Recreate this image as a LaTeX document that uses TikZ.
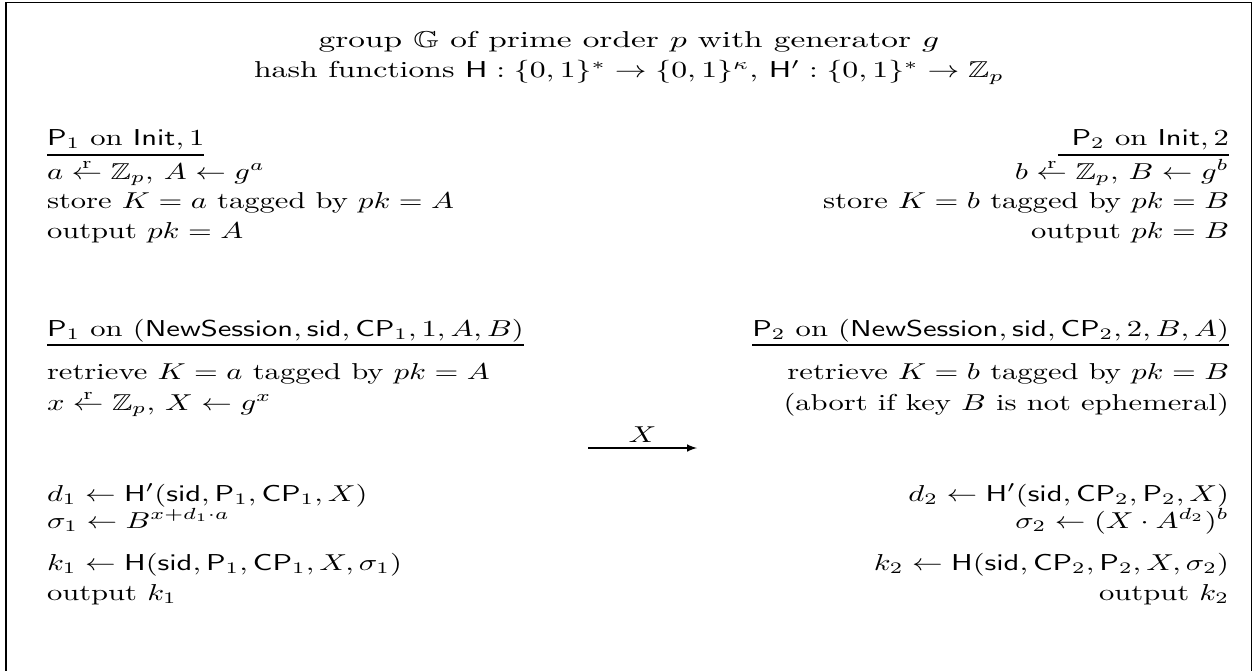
\documentclass[tikz,border=0pt]{standalone}
\usepackage{amsmath,amssymb,graphicx}
\newcommand{\smp}{\mathrel{\overset{\raisebox{-2.2pt}{$\scriptstyle\mathrm{r}$}}{\leftarrow}}}
\newcommand{\xf}{1.33}
\newcommand{\sx}[1]{\scalebox{\xf}[1]{#1}}
\newcommand{\sxw}[2]{\scalebox{#1}[1]{#2}}
\begin{document}
\begin{tikzpicture}[x=0.435pt,y=-0.435pt,
  txt/.style={inner sep=0pt,outer sep=0pt,font=\fontsize{10}{12}\selectfont},
  lt/.style={txt,anchor=base west},
  rt/.style={txt,anchor=base east},
  ct/.style={txt,anchor=base},
  hrule/.style={line width=0.8pt},
  frame/.style={line width=0.8pt}]
\useasboundingbox (0,0) rectangle (1257,670);
\draw[frame] (6,700) -- (6,2.5) -- (1251.5,2.5) -- (1251.5,700);
% header
\node[ct] (g1) at (629,47) {\sxw{1.45}{group $\mathbb{G}$ of prime order $p$ with generator $g$}};
\node[ct] (g2) at (629,78) {\sxw{1.38}{hash functions $\mathsf{H}:\{0,1\}^*\to\{0,1\}^\kappa$, $\mathsf{H}':\{0,1\}^*\to\mathbb{Z}_p$}};
% left init
\node[lt] (h1) at (47,145) {\sx{$\mathsf{P}_1$ on $\mathsf{Init},1$}};
\draw[hrule] ([yshift=-4.4pt]h1.base west) -- ([yshift=-4.4pt]h1.base east);
\node[lt] (a1) at (47,179) {\sx{$a\smp\mathbb{Z}_p,\,A\leftarrow g^a$}};
\node[lt] (a2) at (47,208) {\sx{store $K=a$ tagged by $pk=A$}};
\node[lt] (a3) at (47,238) {\sx{output $pk=A$}};
% right init
\node[rt] (h2) at (1229,145) {\sx{$\mathsf{P}_2$ on $\mathsf{Init},2$}};
\draw[hrule] ([yshift=-4.4pt,xshift=-6pt]h2.base west) -- ([yshift=-4.4pt]h2.base east);
\node[rt] (b1) at (1229,179) {\sx{$b\smp\mathbb{Z}_p,\,B\leftarrow g^b$}};
\node[rt] (b2) at (1229,208) {\sx{store $K=b$ tagged by $pk=B$}};
\node[rt] (b3) at (1229,238) {\sx{output $pk=B$}};
% left session
\node[lt] (h3) at (47,336) {\sx{$\mathsf{P}_1$ on $(\mathsf{NewSession},\mathsf{sid},\mathsf{CP}_1,1,A,B)$}};
\draw[hrule] ([yshift=-3.9pt]h3.base west) -- ([yshift=-3.9pt]h3.base east);
\node[lt] (c1) at (47,379) {\sx{retrieve $K=a$ tagged by $pk=A$}};
\node[lt] (c2) at (47,410) {\sx{$x\smp\mathbb{Z}_p,\,X\leftarrow g^x$}};
\node[lt] (c3) at (47,501) {\sx{$d_1\leftarrow\mathsf{H}'(\mathsf{sid},\mathsf{P}_1,\mathsf{CP}_1,X)$}};
\node[lt] (c4) at (47,528) {\sx{$\sigma_1\leftarrow B^{x+d_1\cdot a}$}};
\node[lt] (c5) at (47,570) {\sx{$k_1\leftarrow\mathsf{H}(\mathsf{sid},\mathsf{P}_1,\mathsf{CP}_1,X,\sigma_1)$}};
\node[lt] (c6) at (47,600) {\sx{output $k_1$}};
% right session
\node[rt] (h4) at (1229,336) {\sx{$\mathsf{P}_2$ on $(\mathsf{NewSession},\mathsf{sid},\mathsf{CP}_2,2,B,A)$}};
\draw[hrule] ([yshift=-3.9pt]h4.base west) -- ([yshift=-3.9pt]h4.base east);
\node[rt] (d1) at (1229,379) {\sx{retrieve $K=b$ tagged by $pk=B$}};
\node[rt] (d2) at (1229,410) {\sx{(abort if key $B$ is not ephemeral)}};
\node[rt] (d3) at (1229,501) {\sx{$d_2\leftarrow\mathsf{H}'(\mathsf{sid},\mathsf{CP}_2,\mathsf{P}_2,X)$}};
\node[rt] (d4) at (1229,528) {\sx{$\sigma_2\leftarrow(X\cdot A^{d_2})^b$}};
\node[rt] (d5) at (1229,570) {\sx{$k_2\leftarrow\mathsf{H}(\mathsf{sid},\mathsf{CP}_2,\mathsf{P}_2,X,\sigma_2)$}};
\node[rt] (d6) at (1229,600) {\sx{output $k_2$}};
% message
\coordinate (ms) at (588,448);
\coordinate (me) at (697,448);
\draw[line width=0.5pt,-latex] (ms) -- node[txt,above=2.2pt] (ml) {\sx{$X$}} (me);
\end{tikzpicture}
\end{document}
